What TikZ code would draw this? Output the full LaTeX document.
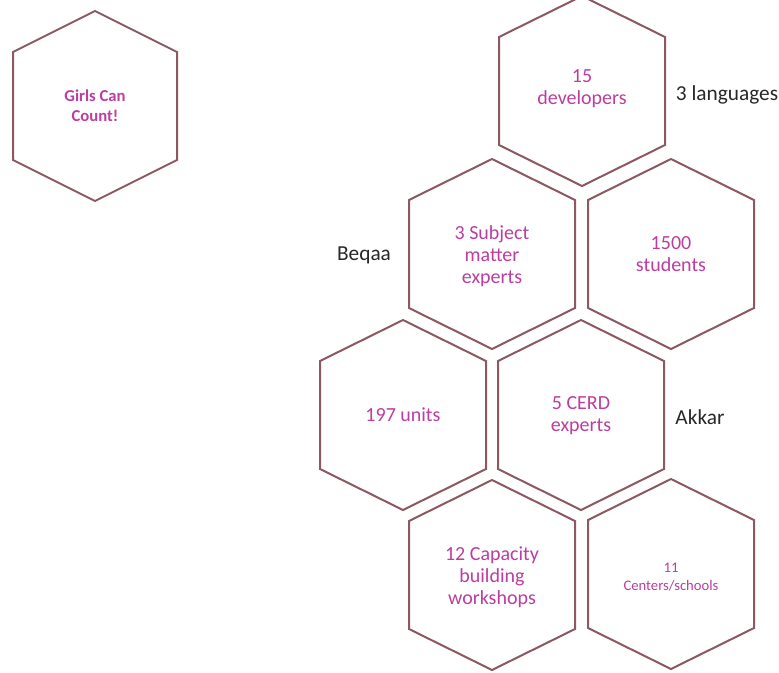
\documentclass[tikz,border=0pt]{standalone}
\usepackage{fontspec}
\setmainfont{Carlito}
\definecolor{hexline}{RGB}{140,88,98}
\definecolor{hextext}{RGB}{188,62,160}
\definecolor{labeltext}{RGB}{40,40,40}
\tikzset{
  hexline/.style={draw=hexline, line width=1.5pt, line join=miter},
  hexlabel/.style={text=hextext, align=center, inner sep=0pt, font=\fontsize{15}{16.5}\selectfont},
  sidelabel/.style={text=labeltext, inner sep=0pt, font=\fontsize{16}{18}\selectfont}
}
\newcommand\hexcell[1]{%
  \draw[hexline] ([shift={(0,-95)}]#1.center) -- ([shift={(83,-54)}]#1.center)
    -- ([shift={(83,54)}]#1.center) -- ([shift={(0,95)}]#1.center)
    -- ([shift={(-83,54)}]#1.center) -- ([shift={(-83,-54)}]#1.center) -- cycle;}
\begin{document}
\begin{tikzpicture}[x=0.75pt,y=-0.75pt]
\useasboundingbox (0,0) rectangle (779,672);
\fill[white] (0,0) rectangle (779,672);
% hexagon centres
\node[hexlabel, font=\bfseries\fontsize{12.5}{15}\selectfont] (girls) at (95,106) {Girls Can\\Count!};
\node[hexlabel] (dev) at (582,89) {15\\developers};
\node[hexlabel] (sme) at (492,256) {3 Subject\\matter\\experts};
\node[hexlabel] (stu) at (671,254) {1500\\students};
\node[hexlabel] (units) at (403,415) {197 units};
\node[hexlabel] (cerd) at (581,416) {5 CERD\\experts};
\node[hexlabel] (cap) at (492,577) {12 Capacity\\building\\workshops};
\node[hexlabel, font=\fontsize{11}{13.5}\selectfont] (cen) at (671,577) {11\\Centers/schools};
% hexagon outlines
\begin{scope}[shift={(0,0)}]
\draw[hexline] ([shift={(0,-95)}]girls.center) -- ([shift={(82,-54)}]girls.center)
    -- ([shift={(82,54)}]girls.center) -- ([shift={(0,95)}]girls.center)
    -- ([shift={(-82,54)}]girls.center) -- ([shift={(-82,-54)}]girls.center) -- cycle;
\end{scope}
\coordinate (devc) at (582,91);
\hexcell{devc}
\coordinate (smec) at (492,254);
\hexcell{smec}
\coordinate (stuc) at (671,254);
\hexcell{stuc}
\coordinate (unitsc) at (403,415);
\hexcell{unitsc}
\coordinate (cerdc) at (581,415);
\hexcell{cerdc}
\coordinate (capc) at (492,575);
\hexcell{capc}
\coordinate (cenc) at (671,574);
\hexcell{cenc}
% side labels
\node[sidelabel] (lang) at (727,95) {3 languages};
\node[sidelabel] (beqaa) at (364,255) {Beqaa};
\node[sidelabel] (akkar) at (700,417) {Akkar};
\end{tikzpicture}
\end{document}
